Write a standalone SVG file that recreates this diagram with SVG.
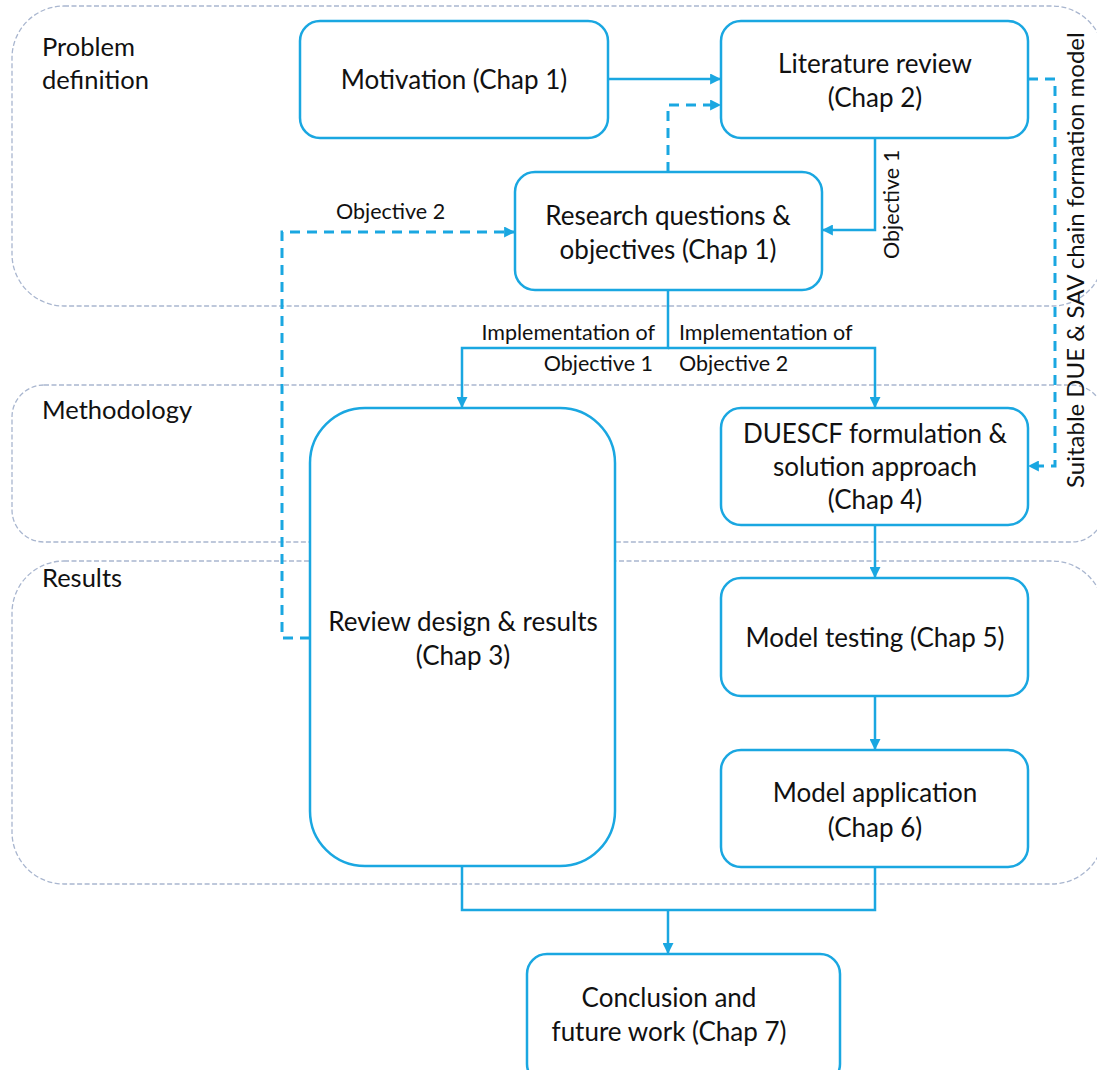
<svg xmlns="http://www.w3.org/2000/svg" width="1097" height="1070" viewBox="0 0 1097 1070">
  <style>
    .lane { fill: none; stroke: #a9b6cf; stroke-width: 1.3; stroke-dasharray: 5 2.5; }
    .lane-title { font-family: Lato, "Liberation Sans", sans-serif; font-size: 25.5px; fill: #111; }
    .box { fill: #fff; stroke: #1aa7e1; stroke-width: 2.5; }
    .label { font-family: Lato, "Liberation Sans", sans-serif; font-size: 26px; fill: #111; text-anchor: middle; }
    .edge { fill: none; stroke: #1aa7e1; stroke-width: 2.5; }
    .edge.dashed { stroke-width: 3; stroke-dasharray: 10 7; }
    .note { font-family: Lato, "Liberation Sans", sans-serif; font-size: 21.5px; fill: #111; }
    .note.big { font-size: 24px; }
  </style>
  <defs>
    <marker id="arrow" viewBox="0 0 10 10" refX="9" refY="5" markerWidth="4.4" markerHeight="4.4" orient="auto" markerUnits="userSpaceOnUse">
      <path d="M0,0 L10,5 L0,10 z" fill="#1aa7e1"/>
    </marker>
    <marker id="arrowhead" viewBox="0 0 10 10" refX="9" refY="5" markerWidth="11" markerHeight="11" orient="auto" markerUnits="userSpaceOnUse">
      <path d="M0,0 L10,5 L0,10 z" fill="#1aa7e1"/>
    </marker>
  </defs>

  <!-- lanes -->
  <g id="lanes">
    <rect class="lane" x="12" y="6" width="1092" height="300" rx="52"/>
    <text class="lane-title" x="42" y="56">Problem</text>
    <text class="lane-title" x="42" y="89">definition</text>
    <rect class="lane" x="12" y="385" width="1092" height="157" rx="32"/>
    <text class="lane-title" x="42" y="419">Methodology</text>
    <rect class="lane" x="12" y="561" width="1092" height="323" rx="52"/>
    <text class="lane-title" x="42" y="587">Results</text>
  </g>

  <!-- connectors -->
  <g id="connectors">
    <path class="edge" d="M608,79 H720" marker-end="url(#arrowhead)"/>
    <path class="edge dashed" d="M668,172 V105 H720" marker-end="url(#arrowhead)"/>
    <path class="edge" d="M875,138 V230 H823" marker-end="url(#arrowhead)"/>
    <text class="note" transform="translate(899,259) rotate(-90)">Objective 1</text>
    <path class="edge dashed" d="M1028,79 H1055 V466 H1029" marker-end="url(#arrowhead)"/>
    <text class="note big" transform="translate(1084,488) rotate(-90)">Suitable DUE &amp; SAV chain formation model</text>
    <path class="edge dashed" d="M310,638 H282 V232 H514" marker-end="url(#arrowhead)"/>
    <text class="note" x="336" y="219">Objective 2</text>
    <path class="edge" d="M668,290 V348 H462 V407" marker-end="url(#arrowhead)"/>
    <path class="edge" d="M668,348 H875 V407" marker-end="url(#arrowhead)"/>
    <text class="note" x="655" y="340" text-anchor="end">Implementation of</text>
    <text class="note" x="653" y="371" text-anchor="end">Objective 1</text>
    <text class="note" x="679" y="340">Implementation of</text>
    <text class="note" x="679" y="371">Objective 2</text>
    <path class="edge" d="M875,525 V577" marker-end="url(#arrowhead)"/>
    <path class="edge" d="M875,696 V749" marker-end="url(#arrowhead)"/>
    <path class="edge" d="M462,866 V910 H875 V867"/>
    <path class="edge" d="M668,910 V953" marker-end="url(#arrowhead)"/>
  </g>

  <!-- nodes -->
  <g id="motivation">
    <rect class="box" x="300" y="21" width="308" height="117" rx="20"/>
    <text class="label" x="454" y="89">Motivation (Chap 1)</text>
  </g>
  <g id="literature">
    <rect class="box" x="721" y="21" width="307" height="117" rx="20"/>
    <text class="label" x="875" y="73">Literature review</text>
    <text class="label" x="875" y="107">(Chap 2)</text>
  </g>
  <g id="research">
    <rect class="box" x="515" y="172" width="307" height="118" rx="20"/>
    <text class="label" x="668" y="225">Research questions &amp;</text>
    <text class="label" x="668" y="259">objectives (Chap 1)</text>
  </g>
  <g id="review">
    <rect class="box" x="310" y="408" width="305" height="458" rx="55"/>
    <text class="label" x="463" y="631">Review design &amp; results</text>
    <text class="label" x="463" y="665">(Chap 3)</text>
  </g>
  <g id="duescf">
    <rect class="box" x="721" y="408" width="307" height="117" rx="20"/>
    <text class="label" x="875" y="443">DUESCF formulation &amp;</text>
    <text class="label" x="875" y="476">solution approach</text>
    <text class="label" x="875" y="509">(Chap 4)</text>
  </g>
  <g id="testing">
    <rect class="box" x="721" y="578" width="307" height="118" rx="20"/>
    <text class="label" x="875" y="647">Model testing (Chap 5)</text>
  </g>
  <g id="application">
    <rect class="box" x="721" y="750" width="307" height="117" rx="20"/>
    <text class="label" x="875" y="802">Model application</text>
    <text class="label" x="875" y="837">(Chap 6)</text>
  </g>
  <g id="conclusion">
    <rect class="box" x="527" y="954" width="313" height="130" rx="20"/>
    <text class="label" x="669" y="1007">Conclusion and</text>
    <text class="label" x="669" y="1041">future work (Chap 7)</text>
  </g>
</svg>
